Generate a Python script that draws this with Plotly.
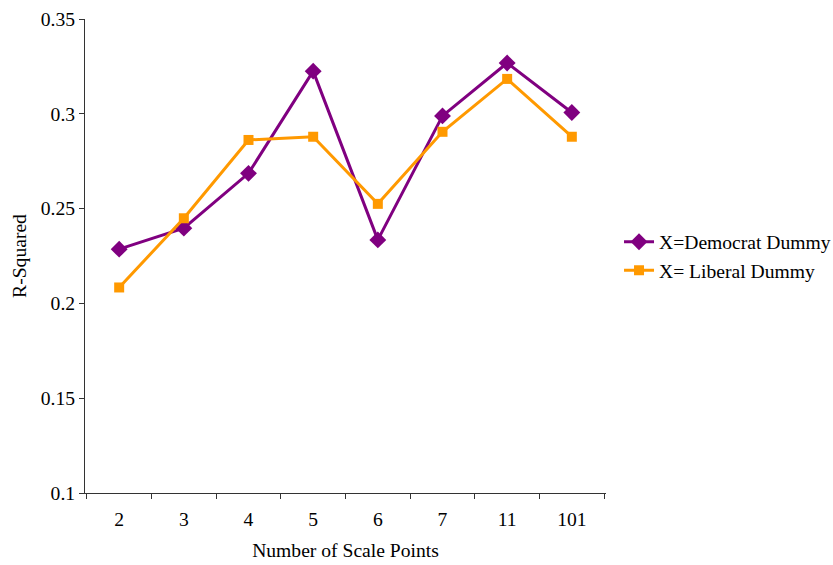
import plotly.graph_objects as go

categories = ["2", "3", "4", "5", "6", "7", "11", "101"]
democrat = [0.2286, 0.2397, 0.2686, 0.3225, 0.2335, 0.2989, 0.3268, 0.3007]
liberal = [0.2084, 0.2449, 0.2862, 0.2879, 0.2525, 0.2905, 0.3184, 0.2879]
y_ticks = [0.1, 0.15, 0.2, 0.25, 0.3, 0.35]
y_tick_text = ["0.1", "0.15", "0.2", "0.25", "0.3", "0.35"]

font_family = "Liberation Serif, Times New Roman, serif"
fs = 19.6

fig = go.Figure()
fig.add_trace(go.Scatter(
    x=categories, y=democrat, mode="lines+markers", name="X=Democrat Dummy",
    line=dict(color="#800080", width=3),
    marker=dict(symbol="diamond", size=13, color="#800080"),
))
fig.add_trace(go.Scatter(
    x=categories, y=liberal, mode="lines+markers", name="X= Liberal Dummy",
    line=dict(color="#FF9900", width=3),
    marker=dict(symbol="square", size=10, color="#FF9900"),
))

fig.update_layout(
    width=833, height=565,
    margin=dict(l=85, r=227, t=19, b=72, autoexpand=False),
    paper_bgcolor="white", plot_bgcolor="white",
    font=dict(family=font_family, size=fs, color="black"),
    showlegend=True,
    legend=dict(x=1.025, y=0.5, xanchor="left", yanchor="middle",
                font=dict(family=font_family, size=fs, color="black"),
                bgcolor="rgba(0,0,0,0)", tracegroupgap=0, itemwidth=30),
    xaxis=dict(
        type="category", showgrid=False, showline=True, linecolor="#333333", linewidth=1,
        ticks="outside", ticklen=5, tickcolor="#333333", tickson="boundaries",
        ticklabelstandoff=8,
        title=dict(text="Number of Scale Points", standoff=14, font=dict(size=fs)),
        tickfont=dict(size=fs), zeroline=False,
    ),
    yaxis=dict(
        range=[0.1, 0.35], tickvals=y_ticks, ticktext=y_tick_text,
        showgrid=False, showline=True, linecolor="#333333", linewidth=1,
        ticks="outside", ticklen=5, tickcolor="#333333",
        title=dict(text="R-Squared", standoff=8, font=dict(size=fs)),
        tickfont=dict(size=fs), zeroline=False,
    ),
)

fig.write_html("out.html")
